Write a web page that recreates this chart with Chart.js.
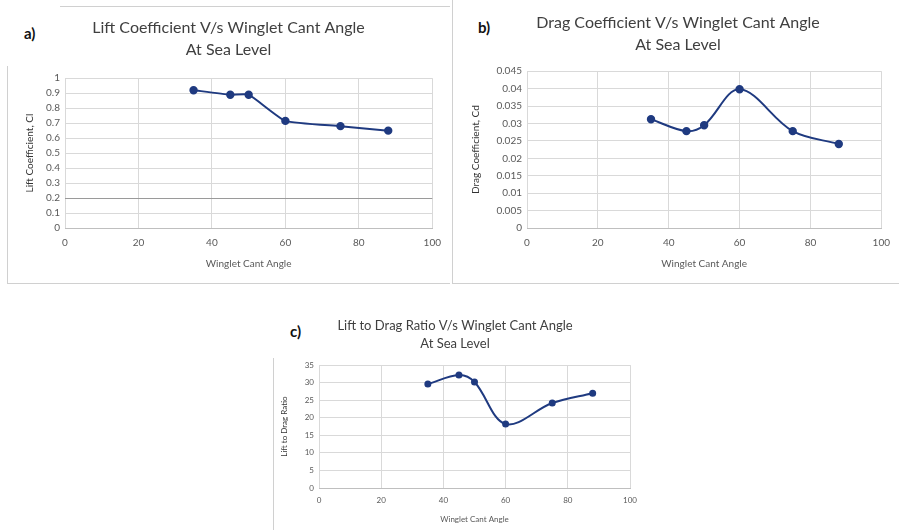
<!DOCTYPE html>
<html lang="en">
<head>
  <meta charset="UTF-8">
  <title>Winglet Cant Angle charts</title>
  <script src="https://cdn.jsdelivr.net/npm/chart.js"></script>
  <style>
    body {
      margin: 0;
      background: #fff;
      font-family: Lato, 'Noto Sans', sans-serif;
      width: 899px;
      height: 530px;
      position: relative;
      overflow: hidden;
    }
    .box {
      position: absolute;
    }
    .tag {
      position: absolute;
      font-weight: bold;
      color: #111;
      font-size: 15px;
    }
    .frame {
      position: absolute;
      background: #d0d0d0;
    }
  </style>
</head>
<body>

<!-- frame lines round the panels -->
<div class="frame" style="left:60px;top:6px;width:390px;height:1px"></div>
<div class="frame" style="left:7px;top:66px;width:1px;height:217px"></div>
<div class="frame" style="left:7px;top:283px;width:443px;height:1px"></div>
<div class="frame" style="left:452px;top:0px;width:1px;height:283px"></div>
<div class="frame" style="left:452px;top:283px;width:447px;height:1px"></div>
<div class="frame" style="left:273px;top:358px;width:1px;height:172px"></div>

<div class="tag" style="left:24px;top:24px">a)</div>
<div class="tag" style="left:478px;top:18px">b)</div>
<div class="tag" style="left:290px;top:322px">c)</div>

<div class="box" style="left:10px;top:8px;width:440px;height:272px"><canvas id="chartA"></canvas></div>
<div class="box" style="left:456px;top:2px;width:443px;height:278px"><canvas id="chartB"></canvas></div>
<div class="box" style="left:276px;top:304px;width:370px;height:224px"><canvas id="chartC"></canvas></div>

<script>
  const cantAngle = [35, 45, 50, 60, 75, 88];
  const liftCoef  = [0.92, 0.89, 0.89, 0.715, 0.68, 0.65];
  const dragCoef  = [0.0312, 0.0278, 0.0295, 0.0398, 0.0278, 0.0241];
  const liftDrag  = [29.6, 32.2, 30.2, 18.2, 24.2, 27.0];

  const xTicks = [0, 20, 40, 60, 80, 100];
  const liftTicks = [0, 0.1, 0.2, 0.3, 0.4, 0.5, 0.6, 0.7, 0.8, 0.9, 1];
  const dragTicks = [0, 0.005, 0.01, 0.015, 0.02, 0.025, 0.03, 0.035, 0.04, 0.045];
  const ratioTicks = [0, 5, 10, 15, 20, 25, 30, 35];

  const lineColor = '#1f3a80';
  const gridColor = '#d9d9d9';
  const txt = '#595959';
  const fam = 'Lato, "Noto Sans", sans-serif';

  function makeChart(id, o) {
    const pts = cantAngle.map((x, i) => ({ x: x, y: o.values[i] }));
    return new Chart(document.getElementById(id), {
      type: 'line',
      data: {
        datasets: [{
          data: pts,
          borderColor: lineColor,
          backgroundColor: lineColor,
          borderWidth: 2,
          pointRadius: o.pointR,
          tension: o.tension
        }]
      },
      options: {
        responsive: true,
        maintainAspectRatio: false,
        animation: false,
        layout: { padding: o.padding },
        plugins: {
          legend: { display: false },
          tooltip: { enabled: false },
          title: {
            display: true,
            text: o.title,
            color: '#404040',
            font: { family: fam, size: o.titleSize, weight: 'normal', lineHeight: 1.35 },
            padding: o.titlePad
          }
        },
        scales: {
          x: {
            type: 'linear',
            min: 0, max: 100,
            afterBuildTicks: s => { s.ticks = xTicks.map(v => ({ value: v })); },
            afterFit: s => { s.height = o.xH; },
            grid: { color: gridColor, drawTicks: false },
            border: { color: '#bfbfbf' },
            ticks: { color: txt, font: { family: fam, size: o.tickSize }, padding: o.tickPad, maxRotation: 0, autoSkip: false },
            title: { display: true, text: 'Winglet Cant Angle', color: txt, font: { family: fam, size: o.axisSize }, padding: { top: o.axisPad, bottom: 0 } }
          },
          y: {
            min: 0, max: o.yMax,
            afterBuildTicks: s => { s.ticks = o.yTicks.map(v => ({ value: v })); },
            afterFit: s => { s.width = o.yW; },
            grid: {
              color: c => (o.darkAt !== undefined && c.tick && Math.abs(c.tick.value - o.darkAt) < 1e-9) ? '#9a9a9a' : gridColor,
              drawTicks: false
            },
            border: { display: false },
            ticks: {
              color: txt,
              font: { family: fam, size: o.tickSize },
              padding: 5,
              autoSkip: false,
              callback: v => String(+v.toFixed(3))
            },
            title: { display: true, text: o.yTitle, color: '#333', font: { family: fam, size: o.axisSize }, padding: { top: 0, bottom: 2 } }
          }
        }
      }
    });
  }

  makeChart('chartA', {
    values: liftCoef, yMax: 1, yTicks: liftTicks, darkAt: 0.2,
    title: ['Lift Coefficient V/s Winglet Cant Angle', 'At Sea Level'],
    yTitle: 'Lift Coefficient, Cl',
    titleSize: 16, tickSize: 10, axisSize: 10, tension: 0.15, pointR: 3.2,
    padding: { left: 14, right: 17, top: 5, bottom: 10 },
    titlePad: { top: 4, bottom: 18 },
    yW: 41, xH: 42, tickPad: 9, axisPad: 6
  });

  makeChart('chartB', {
    values: dragCoef, yMax: 0.045, yTicks: dragTicks,
    title: ['Drag Coefficient V/s Winglet Cant Angle', 'At Sea Level'],
    yTitle: 'Drag Coefficient, Cd',
    titleSize: 16, tickSize: 10, axisSize: 10, tension: 0.35, pointR: 3.2,
    padding: { left: 14, right: 13, top: 6, bottom: 10 },
    titlePad: { top: 4, bottom: 16 },
    yW: 57, xH: 42, tickPad: 9, axisPad: 6
  });

  makeChart('chartC', {
    values: liftDrag, yMax: 35, yTicks: ratioTicks,
    title: ['Lift to Drag Ratio V/s Winglet Cant Angle', 'At Sea Level'],
    yTitle: 'Lift to Drag Ratio',
    titleSize: 13, tickSize: 8, axisSize: 8, tension: 0.35, pointR: 2.5,
    padding: { left: 4, right: 16, top: 5, bottom: 4 },
    titlePad: { top: 8, bottom: 13 },
    yW: 39, xH: 36, tickPad: 8, axisPad: 4
  });
</script>
</body>
</html>
